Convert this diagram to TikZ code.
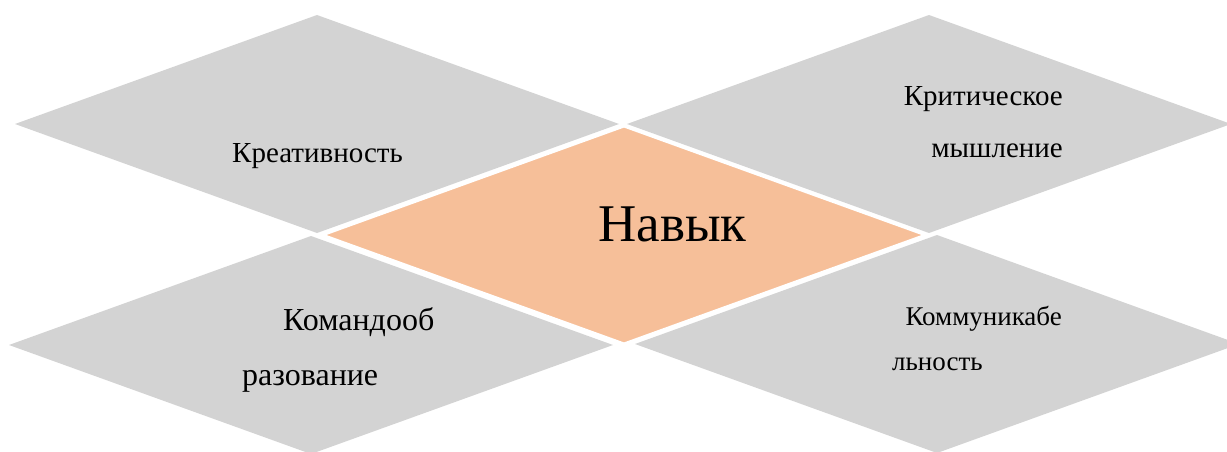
\documentclass[tikz,border=0pt]{standalone}
\usepackage{fontspec}
\setmainfont{Liberation Serif}
\usetikzlibrary{shapes.geometric}
\definecolor{greyfill}{HTML}{D3D3D3}
\definecolor{orangefill}{HTML}{F6BF99}
\tikzset{
  dia/.style={shape=diamond, inner sep=0pt, outer sep=0pt, minimum width=604pt, minimum height=218pt},
  greydia/.style={dia, fill=greyfill, draw=none},
  centerdia/.style={dia, fill=orangefill, draw=white, line width=3pt},
  lbl/.style={inner sep=0pt, text=black},
}
\begin{document}
\begin{tikzpicture}[x=1pt, y=-1pt]
\useasboundingbox (0,0) rectangle (1227,452);
\clip (0,0) rectangle (1227,452);
\node[greydia] (tl) at (317,124) {};
\node[greydia] (tr) at (929,124) {};
\node[greydia] (bl) at (311,345) {};
\node[greydia] (br) at (937,344) {};
\node[centerdia] (c) at (624,235) {};
\node[lbl, anchor=base west, font=\fontsize{29}{34}\selectfont] (t1) at (232,162) {Креативность};
\node[lbl, anchor=base east, font=\fontsize{29}{34}\selectfont] (t2a) at (1063,106) {Критическое};
\node[lbl, anchor=base east, font=\fontsize{29}{34}\selectfont] (t2b) at (1063,157) {мышление};
\node[lbl, anchor=base west, font=\fontsize{53}{60}\selectfont] (t0) at (598,241) {Навык};
\node[lbl, anchor=base west, font=\fontsize{32}{38}\selectfont] (t3a) at (283,330) {Командооб};
\node[lbl, anchor=base west, font=\fontsize{32}{38}\selectfont] (t3b) at (242,385) {разование};
\node[lbl, anchor=base east, font=\fontsize{27}{31}\selectfont] (t4a) at (1062,325) {Коммуникабе};
\node[lbl, anchor=base west, font=\fontsize{27}{31}\selectfont] (t4b) at (892,370) {льность};
\end{tikzpicture}
\end{document}
